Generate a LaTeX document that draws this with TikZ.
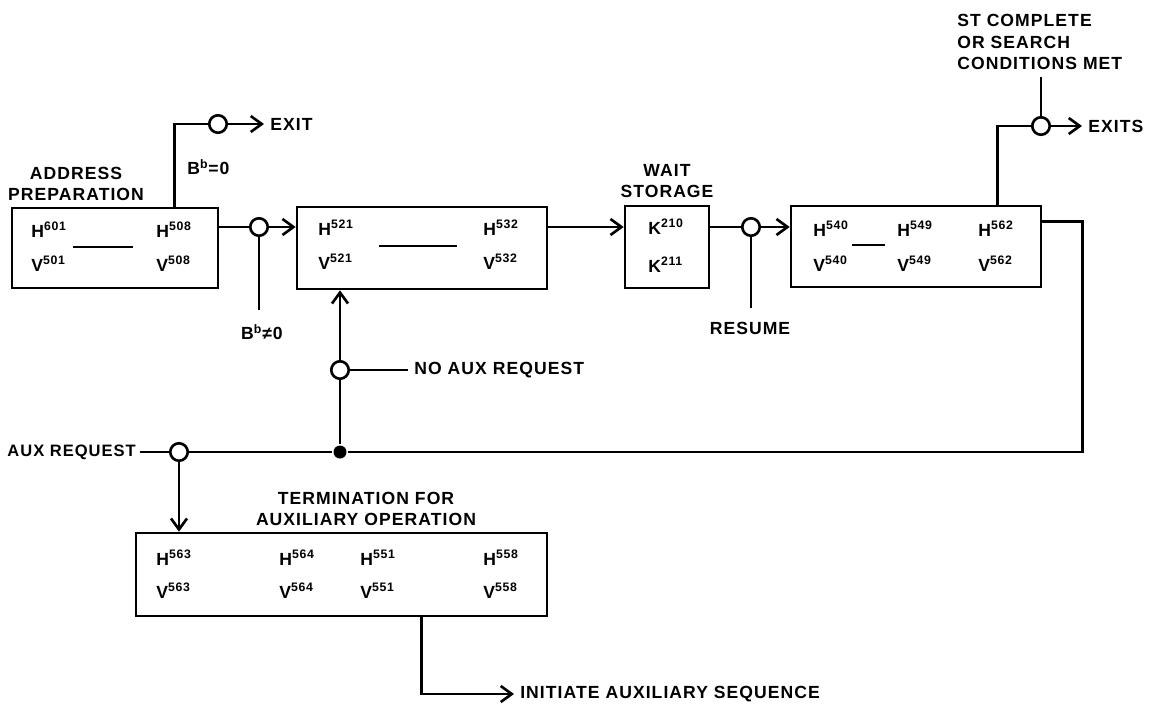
\documentclass[tikz,border=0pt]{standalone}
\usepackage{fontspec}
\setmainfont{Liberation Sans}[LetterSpace=6]
\usepackage{tikz}
\usetikzlibrary{calc,positioning,arrows.meta}
\tikzset{
  box/.style={draw, inner sep=0pt},
  jct/.style={circle, draw, fill=white, minimum size=0.35cm, inner sep=0pt},
  dot/.style={circle, fill, minimum size=0.26cm, inner sep=0pt},
  lbl/.style={font=\fontsize{10}{12}\selectfont\bfseries, inner sep=0.1cm},
  reg/.style={lbl, anchor=base west, inner sep=0pt},
  arr/.style={-{Straight Barb[length=2.2mm,width=3.2mm]}},
}

\begin{document}
\begin{tikzpicture}[x=0.02cm, y=-0.02cm, line width=1.5pt]
\useasboundingbox (0,0) rectangle (1154,707);
% register boxes
\node[box, minimum width=4.12cm, minimum height=1.6cm] (prep) at (115,248) {};
\node[box, minimum width=5.0cm, minimum height=1.64cm] (seq) at (422,248) {};
\node[box, minimum width=1.68cm, minimum height=1.64cm] (wait) at (667,247) {};
\node[box, minimum width=5.0cm, minimum height=1.62cm] (scan) at (916,246.5) {};
\node[box, minimum width=8.22cm, minimum height=1.66cm] (term) at (341.5,574.5) {};
% box contents
\foreach \px/\py/\lt/\sp in {
    30/237/H/601, 30/271/V/501, 155/237/H/508, 155/271/V/508,
    317/235/H/521, 317/269/V/521, 482/235/H/532, 482/269/V/532,
    647/234/K/210, 647/272/K/211,
    812/236/H/540, 812/271/V/540, 896/236/H/549, 896/271/V/549,
    977/236/H/562, 977/271/V/562,
    155/565/H/563, 155/598/V/563, 278/565/H/564, 278/598/V/564,
    359/565/H/551, 359/598/V/551, 482/565/H/558, 482/598/V/558
}
    \node[reg] (\lt\sp) at (\px,\py) {\lt\textsuperscript{\sp}};
\draw (73,247) -- (133,247);
\draw (379,246) -- (457,246);
\draw (852,245) -- (885,245);
% junctions
\node[jct] (jx) at (218,124) {};
\node[jct] (j1) at (259,227) {};
\node[jct] (j2) at (751,227) {};
\node[jct] (jy) at (1041,126) {};
\node[jct] (j5) at (340,370) {};
\node[dot] (jd) at (340,452) {};
\node[jct] (j4) at (179,452) {};
% labels
\node[lbl, align=center] (preplbl) at (76,184) {ADDRESS\\PREPARATION};
\node[lbl, align=center] (waitlbl) at (667,181) {WAIT\\STORAGE};
\node[lbl, align=left, anchor=west, inner sep=0pt] (stlbl) at (956,42) {ST COMPLETE\\OR SEARCH\\CONDITIONS MET};
\node[lbl, align=center] (termlbl) at (366,509) {TERMINATION FOR\\AUXILIARY OPERATION};
\node[lbl, anchor=west] (exit) at (264,124) {EXIT};
\node[lbl, anchor=west] (exits) at (1082,126) {EXITS};
\node[lbl, anchor=west, inner sep=0pt] (bzero) at (186,167) {B\textsuperscript{b}=0};
\node[lbl] (bnot) at (262,332) {B\textsuperscript{b}≠0};
\node[lbl] (resume) at (750,328) {RESUME};
\node[lbl, anchor=west] (noaux) at (408,370) {NO AUX REQUEST};
\node[lbl, anchor=east, inner sep=0.06cm, font=\fontsize{9.4}{12}\selectfont\bfseries] (auxreq) at (140,452) {AUX REQUEST};
\node[lbl, anchor=west] (init) at (514,694) {INITIATE AUXILIARY SEQUENCE};
\coordinate (bnotend) at (259,310);
\coordinate (resend) at (751,308);
\coordinate (stend) at (1041,77);
% connectors
\draw ($(prep.north west)+(164,0)$) |- (jx);
\draw[arr] (jx) -- (exit);
\draw (prep.east |- j1) -- (j1);
\draw[arr] (j1) -- (seq.west |- j1);
\draw (j1) -- (bnotend);
\draw[arr] (seq.east |- j1) -- (wait.west |- j1);
\draw (wait.east |- j2) -- (j2);
\draw[arr] (j2) -- (scan.west |- j2);
\draw (j2) -- (resend);
\draw ($(scan.north west)+(208,0)$) |- (jy);
\draw (jy) -- (stend);
\draw[arr] (jy) -- (exits);
\draw ($(scan.north east)+(0,17)$) -- ++(40,0) |- (jd);
\draw (jd) -- (j4);
\draw (jd) -- (j5);
\draw[arr] (j5) -- (seq.south -| j5);
\draw (j5) -- (noaux);
\draw (auxreq) -- (j4);
\draw[arr] (j4) -- (j4 |- term.north);
\draw[arr] ($(term.south west)+(287,0)$) |- (init);
\end{tikzpicture}
\end{document}
